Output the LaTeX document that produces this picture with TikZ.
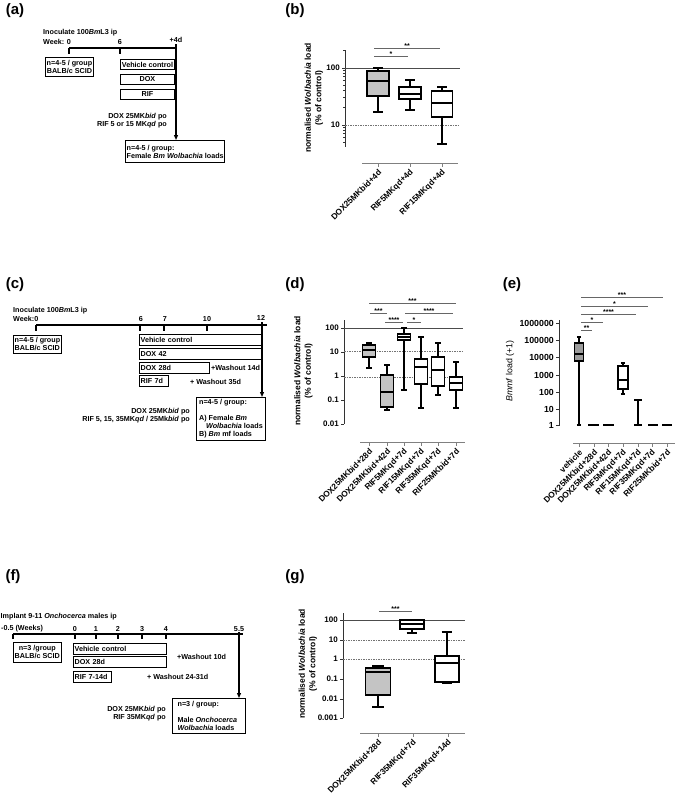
\documentclass[tikz,border=0pt]{standalone}
\usepackage{fontspec}
\setmainfont{Liberation Sans}
\usetikzlibrary{arrows.meta}
\definecolor{boxgray}{HTML}{C4C4C4}
\definecolor{vehgray}{HTML}{9C9C9C}
\newcommand{\bxp}[8]{%
  \draw[bpl] (#1,#3) -- (#1,#4) (#1,#6) -- (#1,#7);
  \draw[bpl] ({#1-0.45*#2},#3) -- ({#1+0.45*#2},#3) ({#1-0.45*#2},#7) -- ({#1+0.45*#2},#7);
  \draw[bpl, fill=#8] ({#1-#2},#4) rectangle ({#1+#2},#6);
  \draw[bpl] ({#1-#2},#5) -- ({#1+#2},#5);}
\newcommand{\sig}[4]{%
  \draw[sigl] (#1,#3) -- (#2,#3);
  \node[star, anchor=base] at ({(#1+#2)/2},{#3+0.5}) {#4};}
\begin{document}
\begin{tikzpicture}[x=1pt,y=-1pt,
  panel/.style={font=\fontsize{15}{15}\selectfont\bfseries, inner sep=0},
  tl/.style={font=\fontsize{7.2}{8}\selectfont\bfseries, inner sep=0},
  tbox/.style={draw, line width=0.9, font=\fontsize{7.2}{8}\selectfont\bfseries, inner xsep=1.2, inner ysep=0.5, anchor=north west},
  tline/.style={line width=1.1},
  arr/.style={line width=1.1, -{Triangle[length=5,width=4]}},
  axl/.style={line width=0.8, black!80},
  tk/.style={font=\fontsize{8}{8}\selectfont\bfseries, inner sep=0, anchor=east},
  tke/.style={font=\fontsize{8.8}{8.8}\selectfont\bfseries, inner sep=0, anchor=east},
  refs/.style={line width=0.8, black!70},
  refd/.style={line width=0.8, black!55, dash pattern=on 1.5pt off 1pt},
  xax/.style={line width=0.9, black!50},
  bpl/.style={line width=1.1, black},
  sigl/.style={line width=0.8, black!60},
  star/.style={font=\fontsize{7}{7}\selectfont\bfseries, inner sep=0},
  xl/.style={font=\fontsize{8.3}{8.3}\selectfont\bfseries, inner sep=0, anchor=east, rotate=45},
  yl/.style={font=\fontsize{8.5}{10.5}\selectfont\bfseries, inner sep=0, rotate=90, align=center}]
\useasboundingbox (0,0) rectangle (675,803);

%%%%%%%%%%%%%%%% (a)
\node[panel] (pa) at (15,11) {(a)};
\node[tl,anchor=west] (ainoc) at (43,33) {Inoculate 100\textit{Bm}L3 ip};
\node[tl,anchor=west] (aweek) at (43,42) {Week:};
\node[tl] (a0) at (69,42) {0};
\node[tl] (a6) at (120,42) {6};
\node[tl] (a4d) at (176,40) {+4d};
\draw[tline] (69,48) -- (176,48) (69,48) -- (69,54) (120,48) -- (120,54);
\node[tbox, minimum width=48, minimum height=19, align=center] (an) at (45,57) {n=4-5 / group\\BALB/c SCID};
\node[tbox, minimum width=54, minimum height=10] (avc) at (120,59) {Vehicle control};
\node[tbox, minimum width=54, minimum height=10] (adox) at (120,74) {DOX};
\node[tbox, minimum width=54, minimum height=10] (arif) at (120,89) {RIF};
\node[tl, anchor=east, align=right] (adose) at (167,121) {DOX 25MK\textit{bid} po\\RIF 5 or 15 MK\textit{qd} po};
\node[tbox, minimum width=98, minimum height=22, align=left] (ares) at (125,140) {n=4-5 / group:\\Female \textit{Bm Wolbachia} loads};
\coordinate (atop) at (176,44);
\draw[arr] (atop) -- (atop |- ares.north);

%%%%%%%%%%%%%%%% (b)
\node[panel] (pb) at (295,11) {(b)};
\draw[axl] (345,50) -- (345,147);
\draw[axl] (345,68) -- (341.5,68) (345,125) -- (341.5,125);
\foreach \m in {5,...,9} {\draw[axl] (345,{182-log10(\m)*57}) -- (343,{182-log10(\m)*57});}
\foreach \m in {2,...,9} {\draw[axl] (345,{125-log10(\m)*57}) -- (343,{125-log10(\m)*57});}
\draw[axl] (345,{68-log10(2)*57}) -- (343,{68-log10(2)*57});
\node[tk] (b100) at (340,68) {100};
\node[tk] (b10) at (340,125) {10};
\draw[refs] (345,68) -- (460,68);
\draw[refd] (345,125) -- (460,125);
\draw[xax] (362,163) -- (458,163);
\foreach \x in {378,410,442} {\draw[xax] (\x,163) -- (\x,167);}
\node[xl] (bx1) at (380,171) {DOX25MKbid+4d};
\node[xl] (bx2) at (412,171) {RIF5MKqd+4d};
\node[xl] (bx3) at (444,171) {RIF15MKqd+4d};
\bxp{378}{11}{68}{71}{81}{96}{112}{boxgray}
\bxp{410}{11}{80}{87}{94}{99}{110}{white}
\bxp{442}{10.5}{87}{91}{103}{117}{144}{white}
\sig{374}{408}{56}{*}
\sig{374}{440}{48}{**}
\node[yl] (byl) at (314,98) {normalised \textit{Wolbachia} load\\(\% of control)};

%%%%%%%%%%%%%%%% (c)
\node[panel] (pc) at (15,285) {(c)};
\node[tl,anchor=west] (cinoc) at (13,311) {Inoculate 100\textit{Bm}L3 ip};
\node[tl,anchor=west] (cweek) at (13,319) {Week:};
\node[tl] (c0) at (36.5,319) {0};
\node[tl] (c6) at (141,319) {6};
\node[tl] (c7) at (165,319) {7};
\node[tl] (c10) at (207,319) {10};
\node[tl] (c12) at (261,318) {12};
\draw[tline] (36,325) -- (267,325);
\foreach \x in {36,140,164,207} {\draw[tline] (\x,325) -- (\x,331);}
\node[tbox, minimum width=48, minimum height=18, align=left] (cn) at (13,335) {n=4-5 / group\\BALB/c SCID};
\node[tbox, minimum height=11, text width=120.6, align=left] (cvc) at (139,334) {Vehicle control};
\node[tbox, minimum height=11, text width=120.6, align=left] (cd42) at (139,348) {DOX 42};
\node[tbox, minimum height=11, text width=67.6, align=left] (cd28) at (139,362) {DOX 28d};
\node[tl,anchor=west] (cw14) at (211,368) {+Washout 14d};
\node[tbox, minimum height=11, text width=26.6, align=left] (crif) at (139,375) {RIF 7d};
\node[tl,anchor=west] (cw35) at (190,382) {+ Washout 35d};
\node[tl, anchor=east, align=right] (cdose) at (190,416) {DOX 25MK\textit{bid} po\\RIF 5, 15, 35MK\textit{qd} / 25Mk\textit{bid} po};
\node[tbox, minimum width=69, minimum height=43, align=left] (cres) at (196,397) {n=4-5 / group:\\[8pt]A) Female \textit{Bm}\\\hspace*{7pt}\textit{Wolbachia} loads\\B) \textit{Bm} mf loads};
\coordinate (ctop) at (262,322);
\draw[arr] (ctop) -- (ctop |- cres.north);

%%%%%%%%%%%%%%%% (d)
\node[panel] (pd) at (295,285) {(d)};
\draw[axl] (344,320) -- (344,424);
\foreach \y in {328,352,376,400,424} {\draw[axl] (344,\y) -- (340.5,\y);}
\node[tk] (d100) at (339,328) {100};
\node[tk] (d10) at (339,352) {10};
\node[tk] (d1) at (339,376) {1};
\node[tk] (d01) at (339,400) {0.1};
\node[tk] (d001) at (339,424) {0.01};
\draw[refs] (344,328) -- (463,328);
\draw[refd] (344,351) -- (463,351);
\draw[refd] (344,377) -- (463,377);
\draw[xax] (360,442) -- (465,442);
\foreach \x in {369,387,404,421,438,456} {\draw[xax] (\x,442) -- (\x,446);}
\node[xl] (dx1) at (371,450) {DOX25MKbid+28d};
\node[xl] (dx2) at (389,450) {DOX25MKbid+42d};
\node[xl] (dx3) at (406,450) {RIF5MKqd+7d};
\node[xl] (dx4) at (423,450) {RIF15MKqd+7d};
\node[xl] (dx5) at (440,450) {RIF35MKqd+7d};
\node[xl] (dx6) at (458,450) {RIF25MKbid+7d};
\bxp{369}{6.5}{343}{345}{350}{357}{368}{boxgray}
\bxp{387}{6.5}{365}{375}{392}{407}{410}{boxgray}
\bxp{404}{6.5}{328}{334}{337}{340}{390}{white}
\bxp{421}{6.5}{337}{359}{367}{384}{408}{white}
\bxp{438}{6.5}{343}{357}{370}{386}{395}{white}
\bxp{456}{6.5}{362}{377}{383}{390}{408}{white}
\sig{369}{456}{303}{***}
\sig{370}{387}{313}{***}
\sig{405}{453}{313}{****}
\sig{385}{403}{322}{****}
\sig{407}{421}{322}{*}
\node[yl] (dyl) at (303.5,371) {normalised \textit{Wolbachia} load\\(\% of control)};

%%%%%%%%%%%%%%%% (e)
\node[panel] (pe) at (512,285) {(e)};
\draw[axl] (559,320) -- (559,426);
\foreach \y in {323,340,357,375,392,409,425} {\draw[axl] (559,\y) -- (555.5,\y);}
\node[tke] (e6) at (554,323) {1000000};
\node[tke] (e5) at (554,340) {100000};
\node[tke] (e4) at (554,357) {10000};
\node[tke] (e3) at (554,375) {1000};
\node[tke] (e2) at (554,392) {100};
\node[tke] (e1) at (554,409) {10};
\node[tke] (e0) at (554,425) {1};
\draw[xax] (573,443) -- (675,443);
\foreach \x in {579,594,608,623,638,652,667} {\draw[xax] (\x,443) -- (\x,447);}
\node[xl] (ex1) at (581,451) {vehicle};
\node[xl] (ex2) at (596,451) {DOX25MKbid+28d};
\node[xl] (ex3) at (610,451) {DOX25MKbid+42d};
\node[xl] (ex4) at (625,451) {RIF5MKqd+7d};
\node[xl] (ex5) at (640,451) {RIF15MKqd+7d};
\node[xl] (ex6) at (654,451) {RIF35MKqd+7d};
\node[xl] (ex7) at (669,451) {RIF25MKbid+7d};
\bxp{579}{4.5}{337}{343}{354}{361}{425}{vehgray}
\draw[bpl] (588,425) -- (599,425) (603,425) -- (614,425) (648,425) -- (658,425) (662,425) -- (672,425);
\bxp{623}{5}{363}{366}{380}{389}{394}{white}
\draw[bpl] (638,400) -- (638,425) (634,400) -- (642,400) (634,425) -- (642,425);
\sig{581}{592}{330}{**}
\sig{581}{603}{322}{*}
\sig{581}{636}{314}{****}
\sig{581}{648}{306}{*}
\sig{581}{663}{297}{***}
\node[font=\fontsize{8.8}{10}\selectfont, inner sep=0, rotate=90] (eyl) at (510,371) {\textit{Bmmf} load (+1)};

%%%%%%%%%%%%%%%% (f)
\node[panel] (pf) at (13,577) {(f)};
\node[tl,anchor=west] (finoc) at (0.5,617) {Implant 9-11 \textit{Onchocerca} males ip};
\node[tl,anchor=west] (fweek) at (1,629) {-0.5 (Weeks)};
\node[tl] (f0) at (75,629) {0};
\node[tl] (f1) at (96,629) {1};
\node[tl] (f2) at (118,629) {2};
\node[tl] (f3) at (142,629) {3};
\node[tl] (f4) at (166,629) {4};
\node[tl] (f55) at (239,629) {5.5};
\draw[tline] (13,634) -- (243,634);
\foreach \x in {13,75,96,118,142,166} {\draw[tline] (\x,634) -- (\x,639);}
\node[tbox, minimum width=47, minimum height=20, align=center] (fn) at (13,642) {n=3 /group\\BALB/c SCID};
\node[tbox, minimum height=10.5, text width=90.6, align=left] (fvc) at (73,643) {Vehicle control};
\node[tbox, minimum height=11, text width=90.6, align=left] (fdox) at (73,656) {DOX 28d};
\node[tl,anchor=west] (fw10) at (177,657) {+Washout 10d};
\node[tbox, minimum height=11, text width=35.6, align=left] (frif) at (73,671) {RIF 7-14d};
\node[tl,anchor=west] (fw24) at (147,677) {+ Washout 24-31d};
\node[tl, anchor=east, align=right] (fdose) at (166,713.5) {DOX 25MK\textit{bid} po\\RIF 35MK\textit{qd} po};
\node[tbox, minimum width=73, minimum height=35, align=left] (fres) at (172,698) {n=3 / group:\\[8pt]Male \textit{Onchocerca}\\\textit{Wolbachia} loads\hspace*{6pt}};
\coordinate (ftop) at (239,632);
\draw[arr] (ftop) -- (ftop |- fres.north);

%%%%%%%%%%%%%%%% (g)
\node[panel] (pg) at (295,577) {(g)};
\draw[axl] (343,613) -- (343,718);
\foreach \y in {620,640,659,679,699,718} {\draw[axl] (343,\y) -- (339.5,\y);}
\node[tk] (g2) at (338,620) {100};
\node[tk] (g1) at (338,640) {10};
\node[tk] (g0) at (338,659) {1};
\node[tk] (gm1) at (338,679) {0.1};
\node[tk] (gm2) at (338,699) {0.01};
\node[tk] (gm3) at (338,718) {0.001};
\draw[refs] (343,620) -- (465,620);
\draw[refd] (343,640) -- (465,640);
\draw[refd] (343,659) -- (465,659);
\draw[xax] (360,733) -- (465,733);
\foreach \x in {378,413,448} {\draw[xax] (\x,733) -- (\x,737);}
\node[xl] (gx1) at (380,741) {DOX25MKbid+28d};
\node[xl] (gx2) at (415,741) {RIF35MKqd+7d};
\node[xl] (gx3) at (450,741) {RIF35MKqd+14d};
\bxp{378}{12.5}{666}{668}{672}{695}{707}{boxgray}
\bxp{412}{12}{620}{620}{624}{629}{633}{white}
\bxp{447}{12}{632}{656}{663}{682}{683}{white}
\sig{379}{412}{611}{***}
\node[yl] (gyl) at (308,664) {normalised \textit{Wolbachia} load\\(\% of control)};
\end{tikzpicture}
\end{document}
